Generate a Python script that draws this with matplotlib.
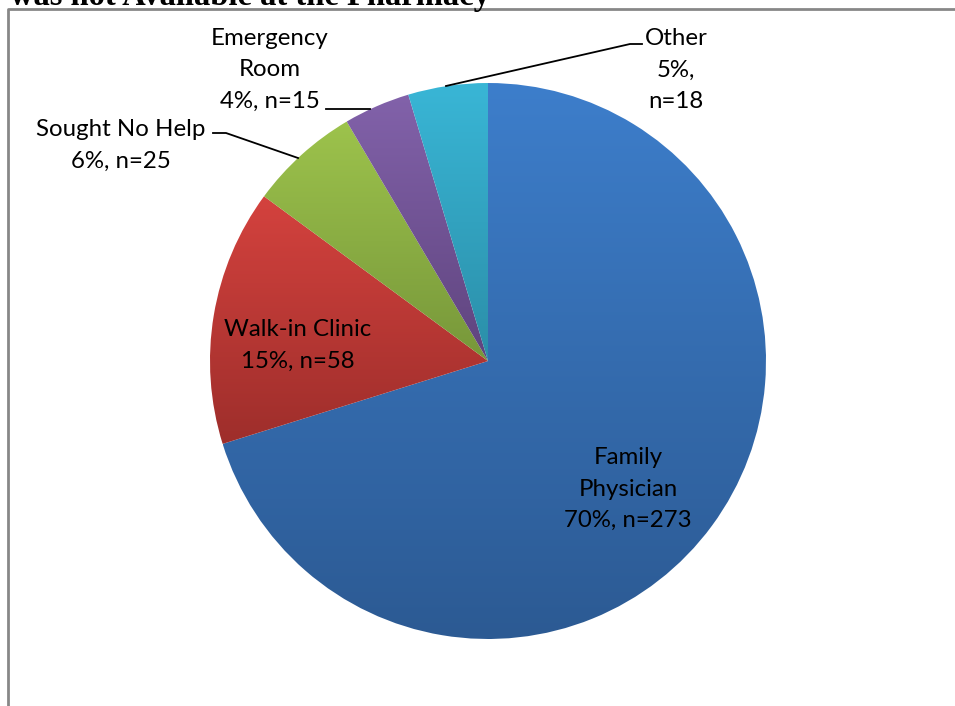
import numpy as np
import matplotlib.pyplot as plt
from matplotlib.colors import to_rgb

# data
categories = ["Family Physician", "Walk-in Clinic", "Sought No Help", "Emergency Room", "Other"]
counts = [273, 58, 25, 15, 18]
label_texts = ["Family\nPhysician\n70%, n=273",
               "Walk-in Clinic\n15%, n=58",
               "Sought No Help\n6%, n=25",
               "Emergency\nRoom\n4%, n=15",
               "Other\n5%,\nn=18"]
top_colors = ["#3D7ECB", "#D4423E", "#9DC34C", "#8262AA", "#39B6D6"]
bottom_colors = ["#2C5A93", "#9E2E2B", "#77973A", "#5F447E", "#2B8EA8"]

W, H = 955, 706
fig = plt.figure(figsize=(W / 100, H / 100), dpi=100)
ax = fig.add_axes([0, 0, 1, 1])

cx, cy, r = 488, H - 361, 278
wedges, _ = ax.pie(counts, startangle=90, counterclock=False,
                   center=(cx, cy), radius=r,
                   wedgeprops=dict(linewidth=0))

# vertical gradient fill per slice
for w, c0, c1 in zip(wedges, top_colors, bottom_colors):
    w.set_facecolor("none")
    ext = w.get_path().get_extents()
    t = np.linspace(0, 1, 256)[:, None]
    a, b = np.array(to_rgb(c0)), np.array(to_rgb(c1))
    grad = (a * (1 - t) + b * t)[:, None, :]
    im = ax.imshow(grad, extent=(ext.x0, ext.x1, ext.y0, ext.y1),
                   origin="upper", aspect="auto", interpolation="bilinear", zorder=1)
    im.set_clip_path(w)

ax.set_xlim(0, W)
ax.set_ylim(0, H)
ax.set_aspect("equal")
ax.axis("off")

font = dict(family=["Lato", "DejaVu Sans"], fontsize=17.3, color="black",
            ha="center", va="center", linespacing=1.63, zorder=5)

label_pos = [(628, 489), (298, 345), (121, 145), (270, 70), (676, 70)]
for txt, (x, y) in zip(label_texts, label_pos):
    ax.text(x, H - y, txt, **font)

# leader lines
leaders = [
    [(213, 133), (226, 133), (298, 158)],
    [(326, 109), (370, 109)],
    [(446, 86), (630, 44), (642, 44)],
]
for pts in leaders:
    xs = [p[0] for p in pts]
    ys = [H - p[1] for p in pts]
    ax.plot(xs, ys, color="black", linewidth=1.3, zorder=4)

# chart frame (partly cropped)
ax.plot([8, 8, W + 5], [-5, H - 9, H - 9], color="#878787", linewidth=2, zorder=6)

# cropped title
ax.text(10, H - 5, "was not Available at the Pharmacy", family="Liberation Serif",
        fontweight="bold", fontsize=23.5, ha="left", va="baseline", zorder=6)

fig.savefig("out.png", dpi=100)
